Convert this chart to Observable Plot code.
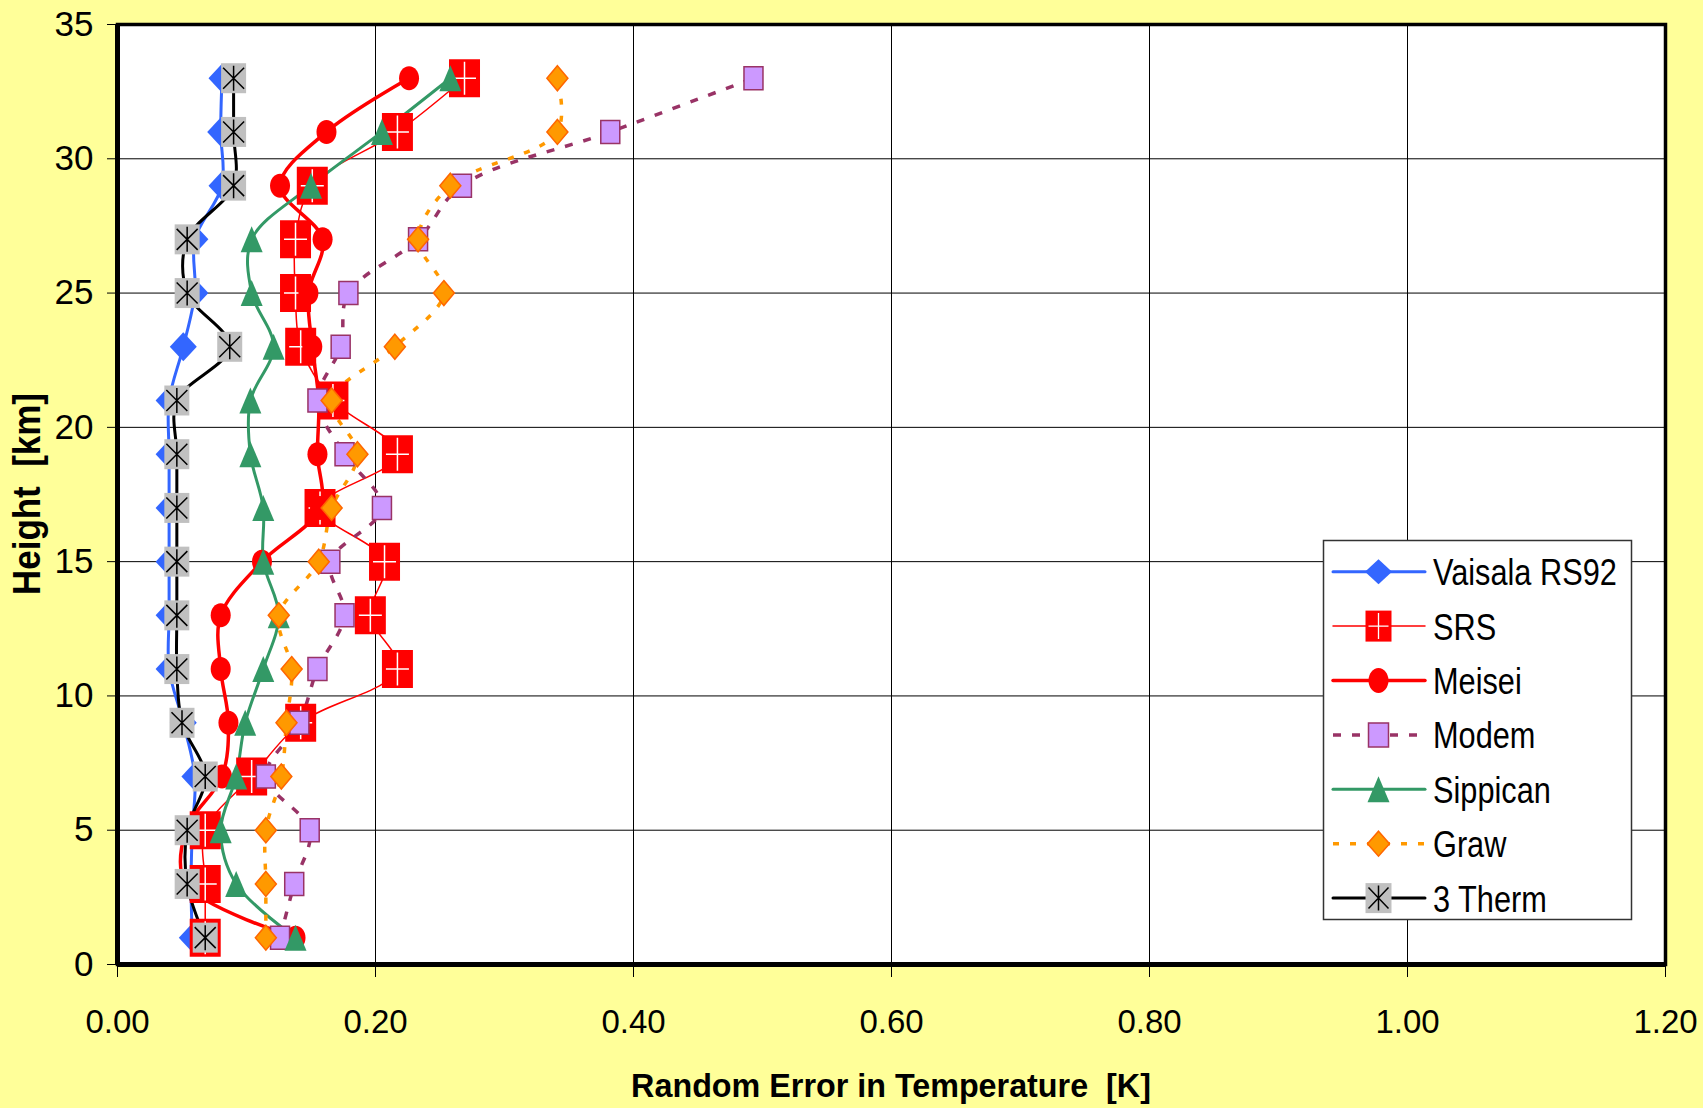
<!DOCTYPE html>
<html>
<head>
<meta charset="utf-8">
<script src="https://cdn.jsdelivr.net/npm/d3@7"></script>
<script src="https://cdn.jsdelivr.net/npm/@observablehq/plot@0.6"></script>
<style>
  html, body { margin: 0; padding: 0; background: #ffff99; }
  #wrap { position: relative; width: 1703px; height: 1108px; background: #ffff99; overflow: hidden; }
  #wrap > svg { position: absolute; left: 0; top: 0; }
  #overlay { position: absolute; left: 0; top: 0; pointer-events: none; }
</style>
</head>
<body>
<div id="wrap"></div>
<script>
// ---------- data ----------
const heights = [1, 3, 5, 7, 9, 11, 13, 15, 17, 19, 21, 23, 25, 27, 29, 31, 33];
const vaisala  = [0.058, 0.057, 0.058, 0.060, 0.051, 0.040, 0.040, 0.040, 0.040, 0.040, 0.040, 0.051, 0.060, 0.060, 0.081, 0.080, 0.081];
const srs      = [0.068, 0.068, 0.068, 0.104, 0.142, 0.217, 0.196, 0.207, 0.157, 0.217, 0.167, 0.142, 0.138, 0.138, 0.151, 0.217, 0.269];
const meisei   = [0.138, 0.053, 0.053, 0.081, 0.086, 0.080, 0.080, 0.112, 0.157, 0.155, 0.156, 0.151, 0.148, 0.159, 0.126, 0.162, 0.226];
const modem    = [0.126, 0.137, 0.149, 0.115, 0.141, 0.155, 0.176, 0.165, 0.205, 0.176, 0.155, 0.173, 0.179, 0.233, 0.267, 0.382, 0.493];
const sippican = [0.138, 0.092, 0.080, 0.092, 0.099, 0.113, 0.125, 0.113, 0.113, 0.103, 0.103, 0.121, 0.104, 0.104, 0.150, 0.205, 0.258];
const graw     = [0.115, 0.115, 0.115, 0.127, 0.131, 0.135, 0.125, 0.156, 0.166, 0.186, 0.166, 0.215, 0.253, 0.233, 0.258, 0.341, 0.341];
const therm3   = [0.068, 0.054, 0.054, 0.068, 0.050, 0.046, 0.046, 0.046, 0.046, 0.046, 0.046, 0.087, 0.054, 0.054, 0.090, 0.090, 0.090];

const seriesNames = ["Vaisala RS92", "SRS", "Meisei", "Modem", "Sippican", "Graw", "3 Therm"];
const seriesValues = [vaisala, srs, meisei, modem, sippican, graw, therm3];

const xTicks = [0, 0.2, 0.4, 0.6, 0.8, 1.0, 1.2];
const yTicks = [0, 5, 10, 15, 20, 25, 30, 35];
const xTitle = "Random Error in Temperature\u00A0\u00A0[K]";
const yTitle = "Height\u00A0\u00A0[km]";

// ---------- symbols ----------
function rectSym(w, h) { return { draw(c) { c.rect(-w / 2, -h / 2, w, h); } }; }
function diamondSym(w, h) { return { draw(c) { c.moveTo(0, -h / 2); c.lineTo(w / 2, 0); c.lineTo(0, h / 2); c.lineTo(-w / 2, 0); c.closePath(); } }; }
function triSym(w, h) { return { draw(c) { c.moveTo(0, -h / 2); c.lineTo(w / 2, h / 2); c.lineTo(-w / 2, h / 2); c.closePath(); } }; }
function ellipseSym(w, h) {
  const k = 0.5523, a = w / 2, b = h / 2;
  return { draw(c) {
    c.moveTo(a, 0);
    c.bezierCurveTo(a, k * b, k * a, b, 0, b);
    c.bezierCurveTo(-k * a, b, -a, k * b, -a, 0);
    c.bezierCurveTo(-a, -k * b, -k * a, -b, 0, -b);
    c.bezierCurveTo(k * a, -b, a, -k * b, a, 0);
    c.closePath();
  } };
}
function plusSym(w, h) { return { draw(c) { c.moveTo(-w / 2, 0); c.lineTo(w / 2, 0); c.moveTo(0, -h / 2); c.lineTo(0, h / 2); } }; }
function asteriskSym(w, h) { return { draw(c) { c.moveTo(0, -h / 2); c.lineTo(0, h / 2); c.moveTo(-w / 2, -h / 2 + 2); c.lineTo(w / 2, h / 2 - 2); c.moveTo(w / 2, -h / 2 + 2); c.lineTo(-w / 2, h / 2 - 2); } }; }

// ---------- styles ----------
const styles = {
  "Vaisala RS92": { line: "#3366ff", lw: 3, dash: null,
    marks: [{ sym: diamondSym(27, 29), fill: "#3366ff", stroke: "none", sw: 0 }],
    legend: [{ sym: diamondSym(27, 25), fill: "#3366ff", stroke: "none", sw: 0 }] },
  "SRS": { line: "#ff0000", lw: 1.5, dash: null,
    marks: [{ sym: rectSym(31, 38), fill: "#ff0000", stroke: "none", sw: 0 }, { sym: plusSym(23, 33), fill: "none", stroke: "white", sw: 1.5 }],
    legend: [{ sym: rectSym(26, 31), fill: "#ff0000", stroke: "none", sw: 0 }, { sym: plusSym(20, 26), fill: "none", stroke: "white", sw: 1.3 }] },
  "Meisei": { line: "#ff0000", lw: 3.5, dash: null,
    marks: [{ sym: ellipseSym(20, 24), fill: "#ff0000", stroke: "none", sw: 0 }],
    legend: [{ sym: ellipseSym(20, 25), fill: "#ff0000", stroke: "none", sw: 0 }] },
  "Modem": { line: "#993366", lw: 3.5, dash: "8,11",
    marks: [{ sym: rectSym(19, 23), fill: "#cc99ff", stroke: "#993366", sw: 1.5 }],
    legend: [{ sym: rectSym(20, 24), fill: "#cc99ff", stroke: "#993366", sw: 1.5 }] },
  "Sippican": { line: "#339966", lw: 3, dash: null,
    marks: [{ sym: triSym(22, 26), fill: "#339966", stroke: "none", sw: 0 }],
    legend: [{ sym: triSym(22, 26), fill: "#339966", stroke: "none", sw: 0 }] },
  "Graw": { line: "#ff9900", lw: 3.5, dash: "6,11",
    marks: [{ sym: diamondSym(21, 25), fill: "#ff9900", stroke: "#ff6600", sw: 1.5 }],
    legend: [{ sym: diamondSym(22, 25), fill: "#ff9900", stroke: "#ff6600", sw: 1.5 }] },
  "3 Therm": { line: "#000000", lw: 3, dash: null,
    marks: [{ sym: rectSym(25, 30), fill: "#c0c0c0", stroke: "none", sw: 0 }, { sym: asteriskSym(21, 25), fill: "none", stroke: "black", sw: 1.5 }],
    legend: [{ sym: rectSym(26, 30), fill: "#c0c0c0", stroke: "none", sw: 0 }, { sym: asteriskSym(20, 25), fill: "none", stroke: "black", sw: 1.5 }] }
};

const regular = "'Liberation Sans', Arial, sans-serif";

// ---------- marks ----------
const seriesMarks = [];
seriesNames.forEach((name, si) => {
  const rows = heights.map((h, i) => ({ h, x: seriesValues[si][i], name }));
  const st = styles[name];
  seriesMarks.push(Plot.line(rows, {
    x: "x", y: "h", curve: "catmull-rom",
    stroke: st.line, strokeWidth: st.lw, strokeDasharray: st.dash || undefined,
    strokeLinecap: st.dash ? "butt" : "round"
  }));
});
seriesNames.forEach((name, si) => {
  const rows = heights.map((h, i) => ({ h, x: seriesValues[si][i], name }));
  const st = styles[name];
  st.marks.forEach(m => {
    seriesMarks.push(Plot.dot(rows, {
      x: "x", y: "h", symbol: m.sym, r: 10,
      fill: m.fill, stroke: m.stroke, strokeWidth: m.sw
    }));
  });
});

const chart = Plot.plot({
  width: 1703, height: 1108,
  marginLeft: 117, marginRight: 38, marginTop: 24, marginBottom: 144,
  style: { background: "transparent", color: "black" },
  x: { domain: [0, 1.2] },
  y: { domain: [0, 35] },
  marks: [
    Plot.frame({ fill: "white", stroke: "none" }),
    Plot.gridX(xTicks, { stroke: "black", strokeOpacity: 1, strokeWidth: 1 }),
    Plot.gridY(yTicks, { stroke: "black", strokeOpacity: 1, strokeWidth: 1 }),
    Plot.axisX(xTicks, { tickFormat: d3.format(".2f"), tickSize: 13, tickPadding: 32, fontSize: 33, fontFamily: regular, label: null, stroke: "black" }),
    Plot.axisY(yTicks, { tickSize: 10, tickPadding: 14, fontSize: 35, fontFamily: regular, label: null, stroke: "black" }),
    ...seriesMarks,
    Plot.frame({ stroke: "black", strokeWidth: 3.5 }),
    Plot.ruleX([0], { stroke: "black", strokeWidth: 5 }),
    Plot.ruleY([0], { stroke: "black", strokeWidth: 5 })
  ]
});
document.getElementById("wrap").appendChild(chart);

// ---------- overlay: titles + legend ----------
const ov = d3.select("#wrap").append("svg").attr("id", "overlay").attr("width", 1703).attr("height", 1108);
ov.append("text").attr("transform", "translate(891,1097) scale(0.95,1)").attr("text-anchor", "middle")
  .attr("font-family", regular).attr("font-weight", "bold").attr("font-size", 34).text(xTitle);
ov.append("text").attr("transform", "translate(40,494) rotate(-90) scale(0.92,1)").attr("text-anchor", "middle")
  .attr("font-family", regular).attr("font-weight", "bold").attr("font-size", 38).text(yTitle);

const lg = ov.append("g");
lg.append("rect").attr("x", 1323.5).attr("y", 540.5).attr("width", 308).attr("height", 379)
  .attr("fill", "white").attr("stroke", "#333").attr("stroke-width", 1.5);
seriesNames.forEach((name, i) => {
  const st = styles[name];
  const cy = 571.7 + i * 54.4;
  const g = lg.append("g");
  g.append("line").attr("x1", 1333).attr("x2", 1425).attr("y1", cy).attr("y2", cy)
    .attr("stroke", st.line).attr("stroke-width", st.lw)
    .attr("stroke-dasharray", st.dash).attr("stroke-linecap", st.dash ? "butt" : "round");
  st.legend.forEach(m => {
    g.append("path").attr("d", d3.symbol().type(m.sym)())
      .attr("transform", `translate(1378.5,${cy})`)
      .attr("fill", m.fill).attr("stroke", m.stroke).attr("stroke-width", m.sw);
  });
  g.append("text").attr("transform", `translate(1433,${cy + 13.5}) scale(0.83,1)`)
    .attr("font-family", regular).attr("font-size", 37).text(name);
});
</script>
</body>
</html>
